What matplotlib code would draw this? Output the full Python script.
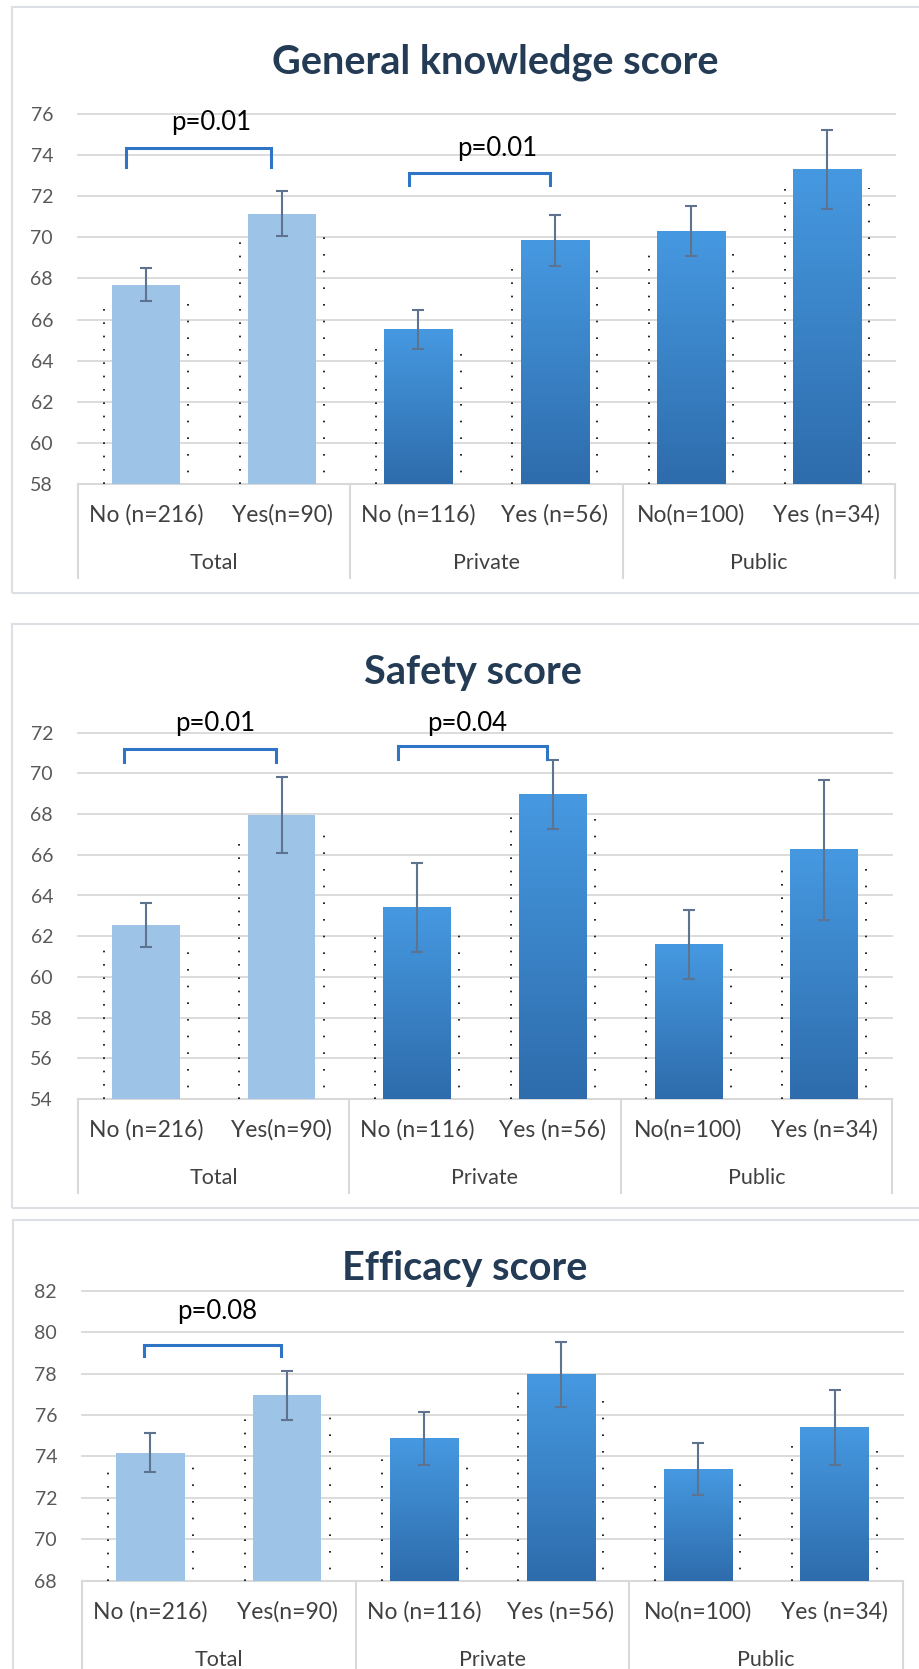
import numpy as np
import matplotlib
matplotlib.use("Agg")
import matplotlib.pyplot as plt
import matplotlib.transforms as mtransforms
from matplotlib.colors import LinearSegmentedColormap
from matplotlib.patches import Rectangle

plt.rcParams['font.family'] = ['Lato', 'DejaVu Sans']

W, H = 919, 1669

groups = ['Total', 'Private', 'Public']
categories = ['No (n=216)', 'Yes(n=90)', 'No (n=116)', 'Yes (n=56)', 'No(n=100)', 'Yes (n=34)']

knowledge_mean = [67.7, 71.15, 65.5, 69.85, 70.3, 73.3]
knowledge_err = [0.8, 1.1, 0.95, 1.25, 1.2, 1.9]
knowledge_ticks = [58, 60, 62, 64, 66, 68, 70, 72, 74, 76]

safety_mean = [62.55, 67.95, 63.4, 68.95, 61.6, 66.25]
safety_err = [1.1, 1.85, 2.2, 1.7, 1.7, 3.45]
safety_ticks = [54, 56, 58, 60, 62, 64, 66, 68, 70, 72]

efficacy_mean = [74.18, 76.95, 74.87, 77.95, 73.4, 75.4]
efficacy_err = [0.93, 1.18, 1.27, 1.57, 1.25, 1.82]
efficacy_ticks = [68, 70, 72, 74, 76, 78, 80, 82]

# significance brackets: (left x, right x, top y, end y, label, label x, label y)
knowledge_brackets = [(-0.15, 0.92, 74.35, 73.4, 'p=0.01', 0.48, 75.6),
                      (1.93, 2.97, 73.15, 72.55, 'p=0.01', 2.58, 74.3)]
safety_brackets = [(-0.16, 0.96, 71.2, 70.55, 'p=0.01', 0.51, 72.45),
                   (1.86, 2.96, 71.35, 70.7, 'p=0.04', 2.37, 72.45)]
efficacy_brackets = [(-0.05, 0.955, 79.37, 78.84, 'p=0.08', 0.49, 81.0)]

LIGHT = '#9DC3E6'
grad_cmap = LinearSegmentedColormap.from_list('bar_grad', ['#2E6CAC', '#4699E1'])
GRID = '#D9D9D9'
ERR = '#5E738F'
BRACKET = '#2E75C6'
TICK = '#595959'
TITLE = '#243B55'

fig = plt.figure(figsize=(W / 100, H / 100), dpi=100)
fig.patch.set_facecolor('white')


def frac_rect(x0, y0, x1, y1):
    return [x0 / W, 1 - y1 / H, (x1 - x0) / W, (y1 - y0) / H]


def panel(ax_px, frame_px, title, title_xy, means, errs, ticks, brackets):
    fx0, fy0, fx1, fy1 = frame_px
    fig.patches.append(Rectangle((fx0 / W, 1 - fy1 / H), (fx1 - fx0) / W, (fy1 - fy0) / H,
                                 transform=fig.transFigure, fill=False,
                                 edgecolor='#DCDFE3', lw=1.5, zorder=0))
    fig.text(title_xy[0] / W, 1 - title_xy[1] / H, title, ha='center', va='center',
             fontsize=28.5, fontweight='bold', color=TITLE)

    ax = fig.add_axes(frac_rect(*ax_px))
    ax_h = ax_px[3] - ax_px[1]
    base = ticks[0]
    xs = np.arange(len(means))
    half = 0.25
    rng = ticks[-1] - ticks[0]

    for i, (x, m) in enumerate(zip(xs, means)):
        if i < 2:
            ax.bar(x, m - base, bottom=base, width=2 * half, color=LIGHT, zorder=2)
        else:
            grad = np.linspace(0, 1, 256).reshape(-1, 1)
            ax.imshow(grad, extent=(x - half, x + half, base, m), origin='lower',
                      cmap=grad_cmap, aspect='auto', zorder=2, interpolation='bilinear')
        # faint dotted edge marks beside each bar
        top = m - 0.05 * rng
        ax.plot([x - half - 0.06] * 2, [base, top], color='black', lw=1.2,
                linestyle=(0, (1, 7)), zorder=3)
        ax.plot([x + half + 0.06] * 2, [base, top], color='black', lw=1.2,
                linestyle=(3, (1, 9)), zorder=3)

    ax.errorbar(xs, means, yerr=errs, fmt='none', ecolor=ERR, elinewidth=1.5,
                capsize=4.5, capthick=1.5, zorder=4)

    for (bx0, bx1, by, bend, lab, lx, ly) in brackets:
        ax.plot([bx0, bx0, bx1, bx1], [bend, by, by, bend], color=BRACKET, lw=2.2,
                solid_joinstyle='miter', zorder=5)
        ax.text(lx, ly, lab, ha='center', va='center', fontsize=18.5, color='black', zorder=6)

    ax.set_xlim(-0.5, len(means) - 0.5)
    ax.set_ylim(ticks[0], ticks[-1])
    ax.set_yticks(ticks)
    ax.set_xticks([])
    ax.tick_params(axis='y', length=0, pad=18, labelsize=14, labelcolor=TICK)
    ax.yaxis.grid(True, color=GRID, lw=1.3)
    for gl in ax.get_ygridlines():
        gl.set_clip_on(False)
    ax.set_axisbelow(True)
    for s in ax.spines.values():
        s.set_visible(False)
    ax.patch.set_alpha(0)

    trans = mtransforms.blended_transform_factory(ax.transData, ax.transAxes)
    ax.plot([-0.5, len(means) - 0.5], [0, 0], transform=trans, color=GRID, lw=1.5,
            clip_on=False, zorder=1)
    for xd in [-0.5, 1.5, 3.5, 5.5]:
        ax.plot([xd, xd], [0, -94 / ax_h], transform=trans, color=GRID, lw=1.5,
                clip_on=False)
    for x, lab in zip(xs, categories):
        ax.text(x, -31 / ax_h, lab, transform=trans, ha='center', va='center',
                fontsize=16.5, color='#404040', clip_on=False)
    for gi, g in enumerate(groups):
        ax.text(2 * gi + 0.5, -79 / ax_h, g, transform=trans, ha='center', va='center',
                fontsize=15.5, color='#404040', clip_on=False)
    return ax


panel((78, 114, 895, 484), (12, 7, 940, 593), 'General knowledge score', (495, 62),
      knowledge_mean, knowledge_err, knowledge_ticks, knowledge_brackets)
panel((78, 732.7, 892, 1099), (12, 624, 940, 1208), 'Safety score', (473, 672),
      safety_mean, safety_err, safety_ticks, safety_brackets)
panel((82, 1290.7, 903, 1580.7), (13, 1220, 940, 1720), 'Efficacy score', (465, 1268),
      efficacy_mean, efficacy_err, efficacy_ticks, efficacy_brackets)

fig.savefig('out.png', dpi=100, facecolor='white')
